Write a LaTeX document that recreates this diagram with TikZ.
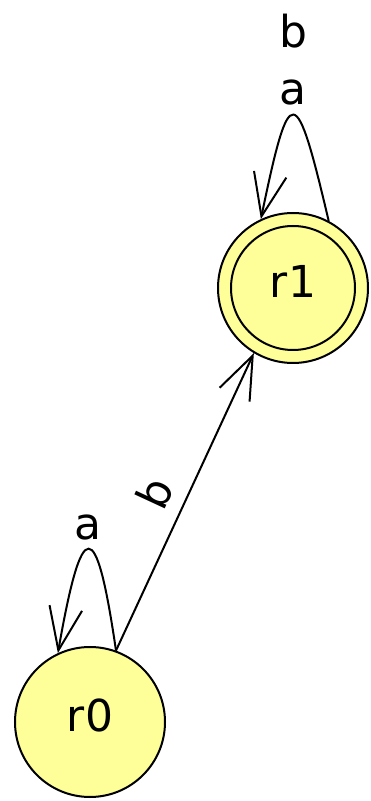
\documentclass[tikz,border=0pt]{standalone}
\usepackage{fontspec}
\setmainfont{DejaVu Sans}
\usetikzlibrary{arrows.meta}
\definecolor{stfill}{RGB}{255,255,153}
\begin{document}
\begin{tikzpicture}[x=1pt,y=1pt,
  state/.style={circle, draw, line width=2pt, fill=stfill, minimum size=150pt,
    inner sep=0pt, text height=32pt, text depth=12pt,
    font=\fontsize{44}{53}\selectfont},
  trans/.style={line width=2pt, -{Straight Barb[length=43pt,width=33pt]}},
  lbl/.style={font=\fontsize{44}{53}\selectfont, anchor=base, inner sep=0pt}]
\useasboundingbox (0,0) rectangle (371,801);
\node[state] (r1) at (293,513) {r1};
\draw[line width=2pt] (r1.center) circle (62pt);
\node[state] (r0) at (90,79) {r0};
\draw[trans] (r1.62) .. controls +(-33,140) and +(29,140) .. (r1.115)
  node[lbl, pos=0.5, yshift=11pt] (la1) {a}
  node[lbl, pos=0.5, yshift=68pt] (lb1) {b};
\draw[trans] (r0.70) .. controls +(-20,137) and +(24,137) .. (r0.115)
  node[lbl, pos=0.5, yshift=10pt] (la0) {a};
\draw[trans] (r0.70) -- (r1.239)
  node[pos=0.485, sloped, above, inner sep=13pt, font=\fontsize{44}{53}\selectfont] (lb0) {b};
\end{tikzpicture}
\end{document}
